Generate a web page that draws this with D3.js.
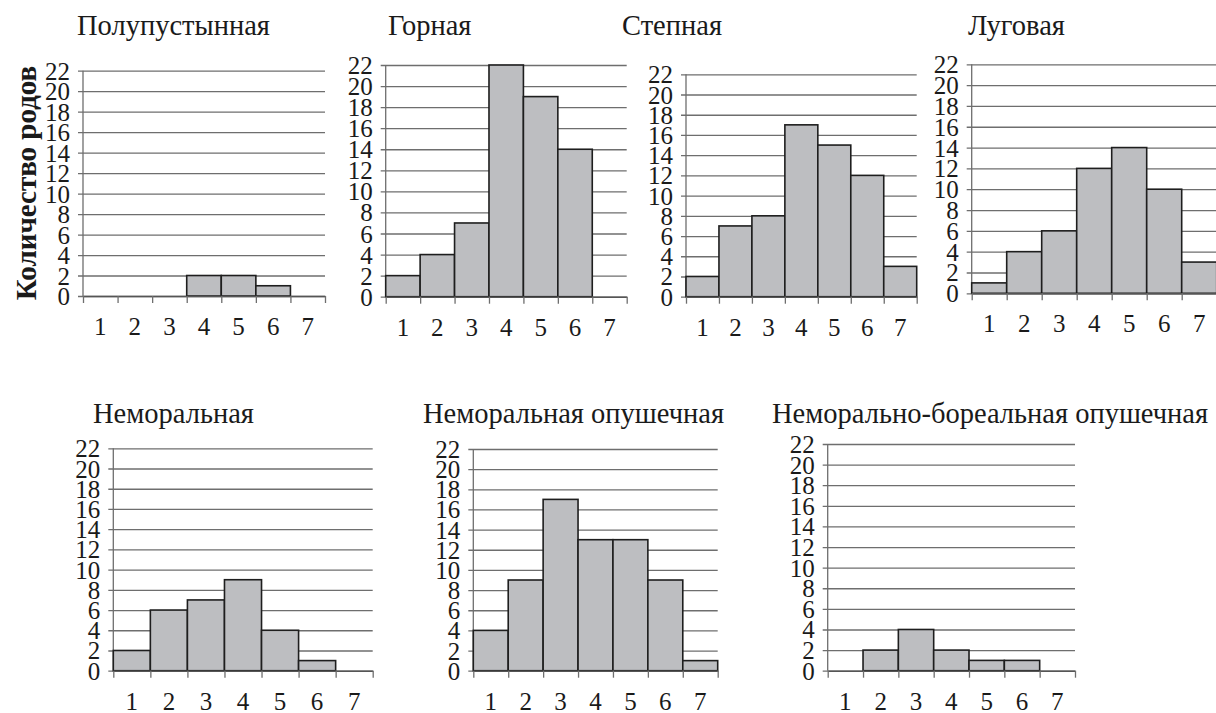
<!DOCTYPE html>
<html>
<head>
<meta charset="utf-8">
<script src="https://cdn.jsdelivr.net/npm/d3@7"></script>
<style>
  body { margin: 0; background: #fff; }
  svg text { font-family: "Liberation Serif", "Times New Roman", serif; fill: #1a1a1a; }
</style>
</head>
<body>
<script>
const width = 1216;
const height = 713;

// data
const classes = ["1", "2", "3", "4", "5", "6", "7"];
const yTicks = [0, 2, 4, 6, 8, 10, 12, 14, 16, 18, 20, 22];
const names = [
  "Полупустынная",
  "Горная",
  "Степная",
  "Луговая",
  "Неморальная",
  "Неморальная опушечная",
  "Неморально-бореальная опушечная"
];
const semidesert = [0, 0, 0, 2, 2, 1, 0];
const mountain = [2, 4, 7, 22, 19, 14, 0];
const steppe = [2, 7, 8, 17, 15, 12, 3];
const meadow = [1, 4, 6, 12, 14, 10, 3];
const nemoral = [2, 6, 7, 9, 4, 1, 0];
const nemoralEdge = [4, 9, 17, 13, 13, 9, 1];
const borealEdge = [0, 2, 4, 2, 1, 1, 0];
const series = [semidesert, mountain, steppe, meadow, nemoral, nemoralEdge, borealEdge];

// layout of each small panel: plot box and title position
const panels = [
  { left: 83, right: 325, top: 70.7, bottom: 296, tx: 77, ty: 35 },
  { left: 385.7, right: 626.7, top: 65, bottom: 296.7, tx: 388, ty: 35 },
  { left: 686, right: 916.7, top: 74.3, bottom: 296.7, tx: 622, ty: 35 },
  { left: 971.7, right: 1216.7, top: 64.3, bottom: 293.3, tx: 968, ty: 35 },
  { left: 113.3, right: 372.7, top: 448.3, bottom: 670.7, tx: 93, ty: 423 },
  { left: 473.3, right: 717.7, top: 449, bottom: 670.7, tx: 423, ty: 423 },
  { left: 827.7, right: 1075, top: 444, bottom: 670.7, tx: 772, ty: 423 }
];

const svg = d3
  .select("body")
  .append("svg")
  .attr("width", width)
  .attr("height", height);

panels.forEach((p, i) => {
  const values = series[i];
  const g = svg.append("g");

  const x = d3.scaleBand().domain(classes).range([p.left, p.right]).padding(0);
  const y = d3.scaleLinear().domain([0, 22]).range([p.bottom, p.top]);

  g.append("text")
    .attr("x", p.tx)
    .attr("y", p.ty)
    .style("font-size", "28.5px")
    .text(names[i]);

  // grid + y labels
  const yAxis = g
    .append("g")
    .attr("transform", `translate(${p.left}, 0)`)
    .call(
      d3.axisLeft(y)
        .tickValues(yTicks)
        .tickSize(-(p.right - p.left))
        .tickSizeOuter(0)
        .tickPadding(0)
    )
    .attr("font-family", null)
    .attr("font-size", null);
  yAxis.select(".domain").remove();
  yAxis.selectAll(".tick line")
    .attr("x1", -5)
    .attr("stroke", "#6e6e6e")
    .attr("stroke-width", 1.3);
  yAxis.selectAll(".tick text")
    .attr("x", -13)
    .attr("dy", "0.34em")
    .attr("fill", null)
    .style("font-size", "25px");

  // vertical axis line
  g.append("line")
    .attr("x1", p.left)
    .attr("x2", p.left)
    .attr("y1", y(22))
    .attr("y2", y(0))
    .attr("stroke", "#6e6e6e")
    .attr("stroke-width", 1.3);

  // bars
  g.append("g")
    .selectAll("rect")
    .data(values.map((v, j) => ({ c: classes[j], v })).filter((d) => d.v > 0))
    .enter()
    .append("rect")
    .attr("x", (d) => x(d.c))
    .attr("y", (d) => y(d.v))
    .attr("width", x.bandwidth())
    .attr("height", (d) => y(0) - y(d.v))
    .attr("fill", "#bdbec1")
    .attr("stroke", "#1e1e1e")
    .attr("stroke-width", 1.6);

  // x axis with ticks at bin edges
  const edges = d3.range(classes.length + 1);
  const xe = d3.scaleLinear().domain([0, classes.length]).range([p.left, p.right]);
  const xAxis = g
    .append("g")
    .attr("transform", `translate(0, ${p.bottom})`)
    .call(d3.axisBottom(xe).tickValues(edges).tickSize(7).tickSizeOuter(0).tickFormat(""));
  xAxis.select(".domain").attr("stroke", "#555").attr("stroke-width", 1.5);
  xAxis.selectAll(".tick line").attr("stroke", "#6e6e6e").attr("stroke-width", 1.3);

  g.append("g")
    .selectAll("text")
    .data(classes)
    .enter()
    .append("text")
    .attr("x", (d) => x(d) + x.bandwidth() / 2)
    .attr("y", p.bottom + 39)
    .attr("text-anchor", "middle")
    .style("font-size", "25px")
    .text((d) => d);
});

svg
  .append("text")
  .attr("transform", "rotate(-90)")
  .attr("x", -183)
  .attr("y", 36)
  .attr("text-anchor", "middle")
  .style("font-size", "29px")
  .style("font-weight", "bold")
  .text("Количество родов");
</script>
</body>
</html>
